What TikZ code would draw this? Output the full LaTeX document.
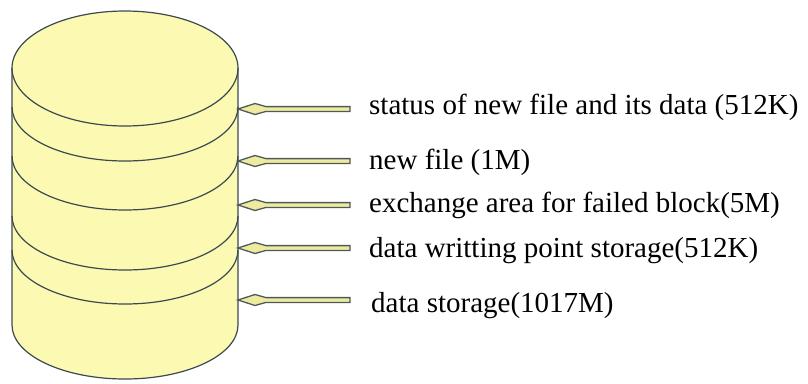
\documentclass[tikz,border=0pt]{standalone}
\usepackage{fontspec}
\setmainfont{Liberation Serif}
\definecolor{cylfill}{HTML}{FBF9B2}
\definecolor{edge}{HTML}{3C4A50}
\definecolor{arrfill}{HTML}{EEEB9E}
\definecolor{arredge}{HTML}{4E5A5A}
\tikzset{
  cyl/.style={draw=edge, line width=1.2bp},
  lbl/.style={anchor=base west, inner sep=0pt, font=\fontsize{29bp}{34bp}\selectfont},
  arrshape/.style={draw=arredge, fill=arrfill, line width=1.3bp, line join=miter},
}
\begin{document}
\begin{tikzpicture}[x=1bp,y=-1bp]
\useasboundingbox (0,0) rectangle (808,383);
% cylinder body
\path[cyl, fill=cylfill] (12,68) -- (12,325) arc[start angle=180,end angle=360,x radius=113bp,y radius=54bp] -- (238,68) arc[start angle=0,end angle=180,x radius=113bp,y radius=57bp] -- cycle;
\draw[cyl] (12,68) arc[start angle=180,end angle=360,x radius=113bp,y radius=58bp];
\foreach \c in {107,156,216,250}{
  \draw[cyl] (12,\c) arc[start angle=180,end angle=360,x radius=113bp,y radius=54bp];
}
% anchor points
\coordinate (c1) at (238,109);
\coordinate (c2) at (238,161);
\coordinate (c3) at (238,205);
\coordinate (c4) at (238,248);
\coordinate (c5) at (238,300);
\coordinate (s1) at (350,109);
\coordinate (s2) at (350,161);
\coordinate (s3) at (350,205);
\coordinate (s4) at (350,248);
\coordinate (s5) at (350,300);
% labels
\node[lbl] (t1) at (369,114) {status of new file and its data (512K)};
\node[lbl] (t2) at (369,169) {new file (1M)};
\node[lbl] (t3) at (369,212) {exchange area for failed block(5M)};
\node[lbl] (t4) at (369,257) {data writting point storage(512K)};
\node[lbl] (t5) at (371,312) {data storage(1017M)};
% arrows
\foreach \i in {1,...,5}{
  \draw[arrshape] (c\i) -- ([shift={(17,-5.5)}]c\i) -- ([shift={(28,-2.4)}]c\i)
    -- ([shift={(0,-2.4)}]s\i) -- ([shift={(0,2.4)}]s\i) -- ([shift={(28,2.4)}]c\i)
    -- ([shift={(17,5.5)}]c\i) -- cycle;
}
\end{tikzpicture}
\end{document}
